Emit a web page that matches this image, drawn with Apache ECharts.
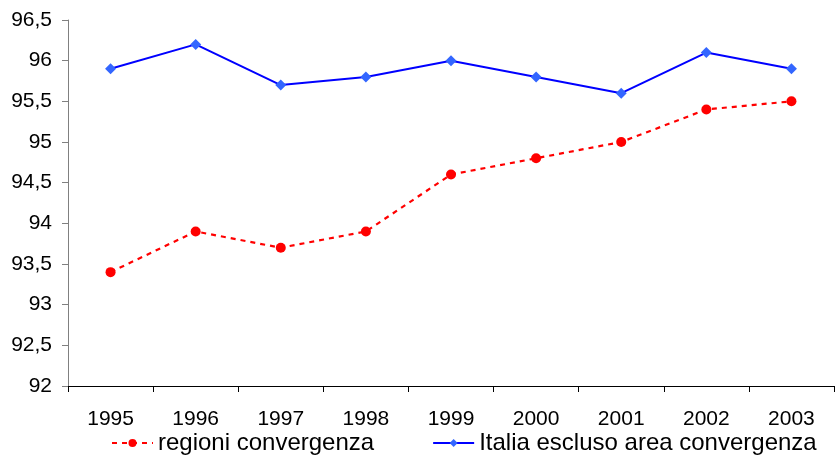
<!DOCTYPE html>
<html><head><meta charset="utf-8">
<script src="https://cdn.jsdelivr.net/npm/echarts@6/dist/echarts.min.js"></script>
<style>html,body{margin:0;padding:0;background:#fff}#c{width:835px;height:466px}</style>
</head><body><div id="c"></div>
<script>
var categories = ['1995','1996','1997','1998','1999','2000','2001','2002','2003'];
var regioniConvergenza = [93.4, 93.9, 93.7, 93.9, 94.6, 94.8, 95.0, 95.4, 95.5];
var italiaEscluso = [95.9, 96.2, 95.7, 95.8, 96.0, 95.8, 95.6, 96.1, 95.9];
var seriesNames = ['regioni convergenza', 'Italia escluso area convergenza'];

var chart = echarts.init(document.getElementById('c'), null, {renderer: 'canvas'});
var font = 'Arial, "Liberation Sans", sans-serif';
chart.setOption({
  animation: false,
  textStyle: {fontFamily: font},
  grid: {left: 68, right: 1, top: 20, bottom: 80, containLabel: false},
  legend: {
    top: 431, left: 111, padding: 0, itemGap: 58, itemWidth: 41, itemHeight: 10,
    textStyle: {fontSize: 24, color: '#000', fontFamily: font},
    data: [
      {name: seriesNames[0], itemStyle: {color: '#ff0000'}},
      {name: seriesNames[1], itemStyle: {color: '#3366ff'}}
    ]
  },
  xAxis: {
    type: 'category', data: categories, boundaryGap: true,
    axisLine: {lineStyle: {color: '#000', width: 1}},
    axisTick: {show: true, length: 6, lineStyle: {color: '#000'}},
    axisLabel: {fontSize: 21, color: '#000', margin: 23, fontFamily: font}
  },
  yAxis: {
    type: 'value', min: 92, max: 96.5, interval: 0.5,
    splitLine: {show: false},
    axisLine: {show: true, lineStyle: {color: '#808080', width: 1}},
    axisTick: {show: true, length: 6, lineStyle: {color: '#808080'}},
    axisLabel: {fontSize: 21, color: '#000', margin: 16, fontFamily: font,
      formatter: function (v) { return String(v).replace('.', ','); }}
  },
  series: [
    {
      name: seriesNames[0], type: 'line', data: regioniConvergenza,
      symbol: 'circle', symbolSize: 10,
      lineStyle: {color: '#ff0000', width: 2.2, type: [5, 5]},
      itemStyle: {color: '#ff0000'}
    },
    {
      name: seriesNames[1], type: 'line', data: italiaEscluso,
      symbol: 'diamond', symbolSize: 11,
      lineStyle: {color: '#0000ff', width: 2},
      itemStyle: {color: '#3366ff'}
    }
  ]
});
</script></body></html>
